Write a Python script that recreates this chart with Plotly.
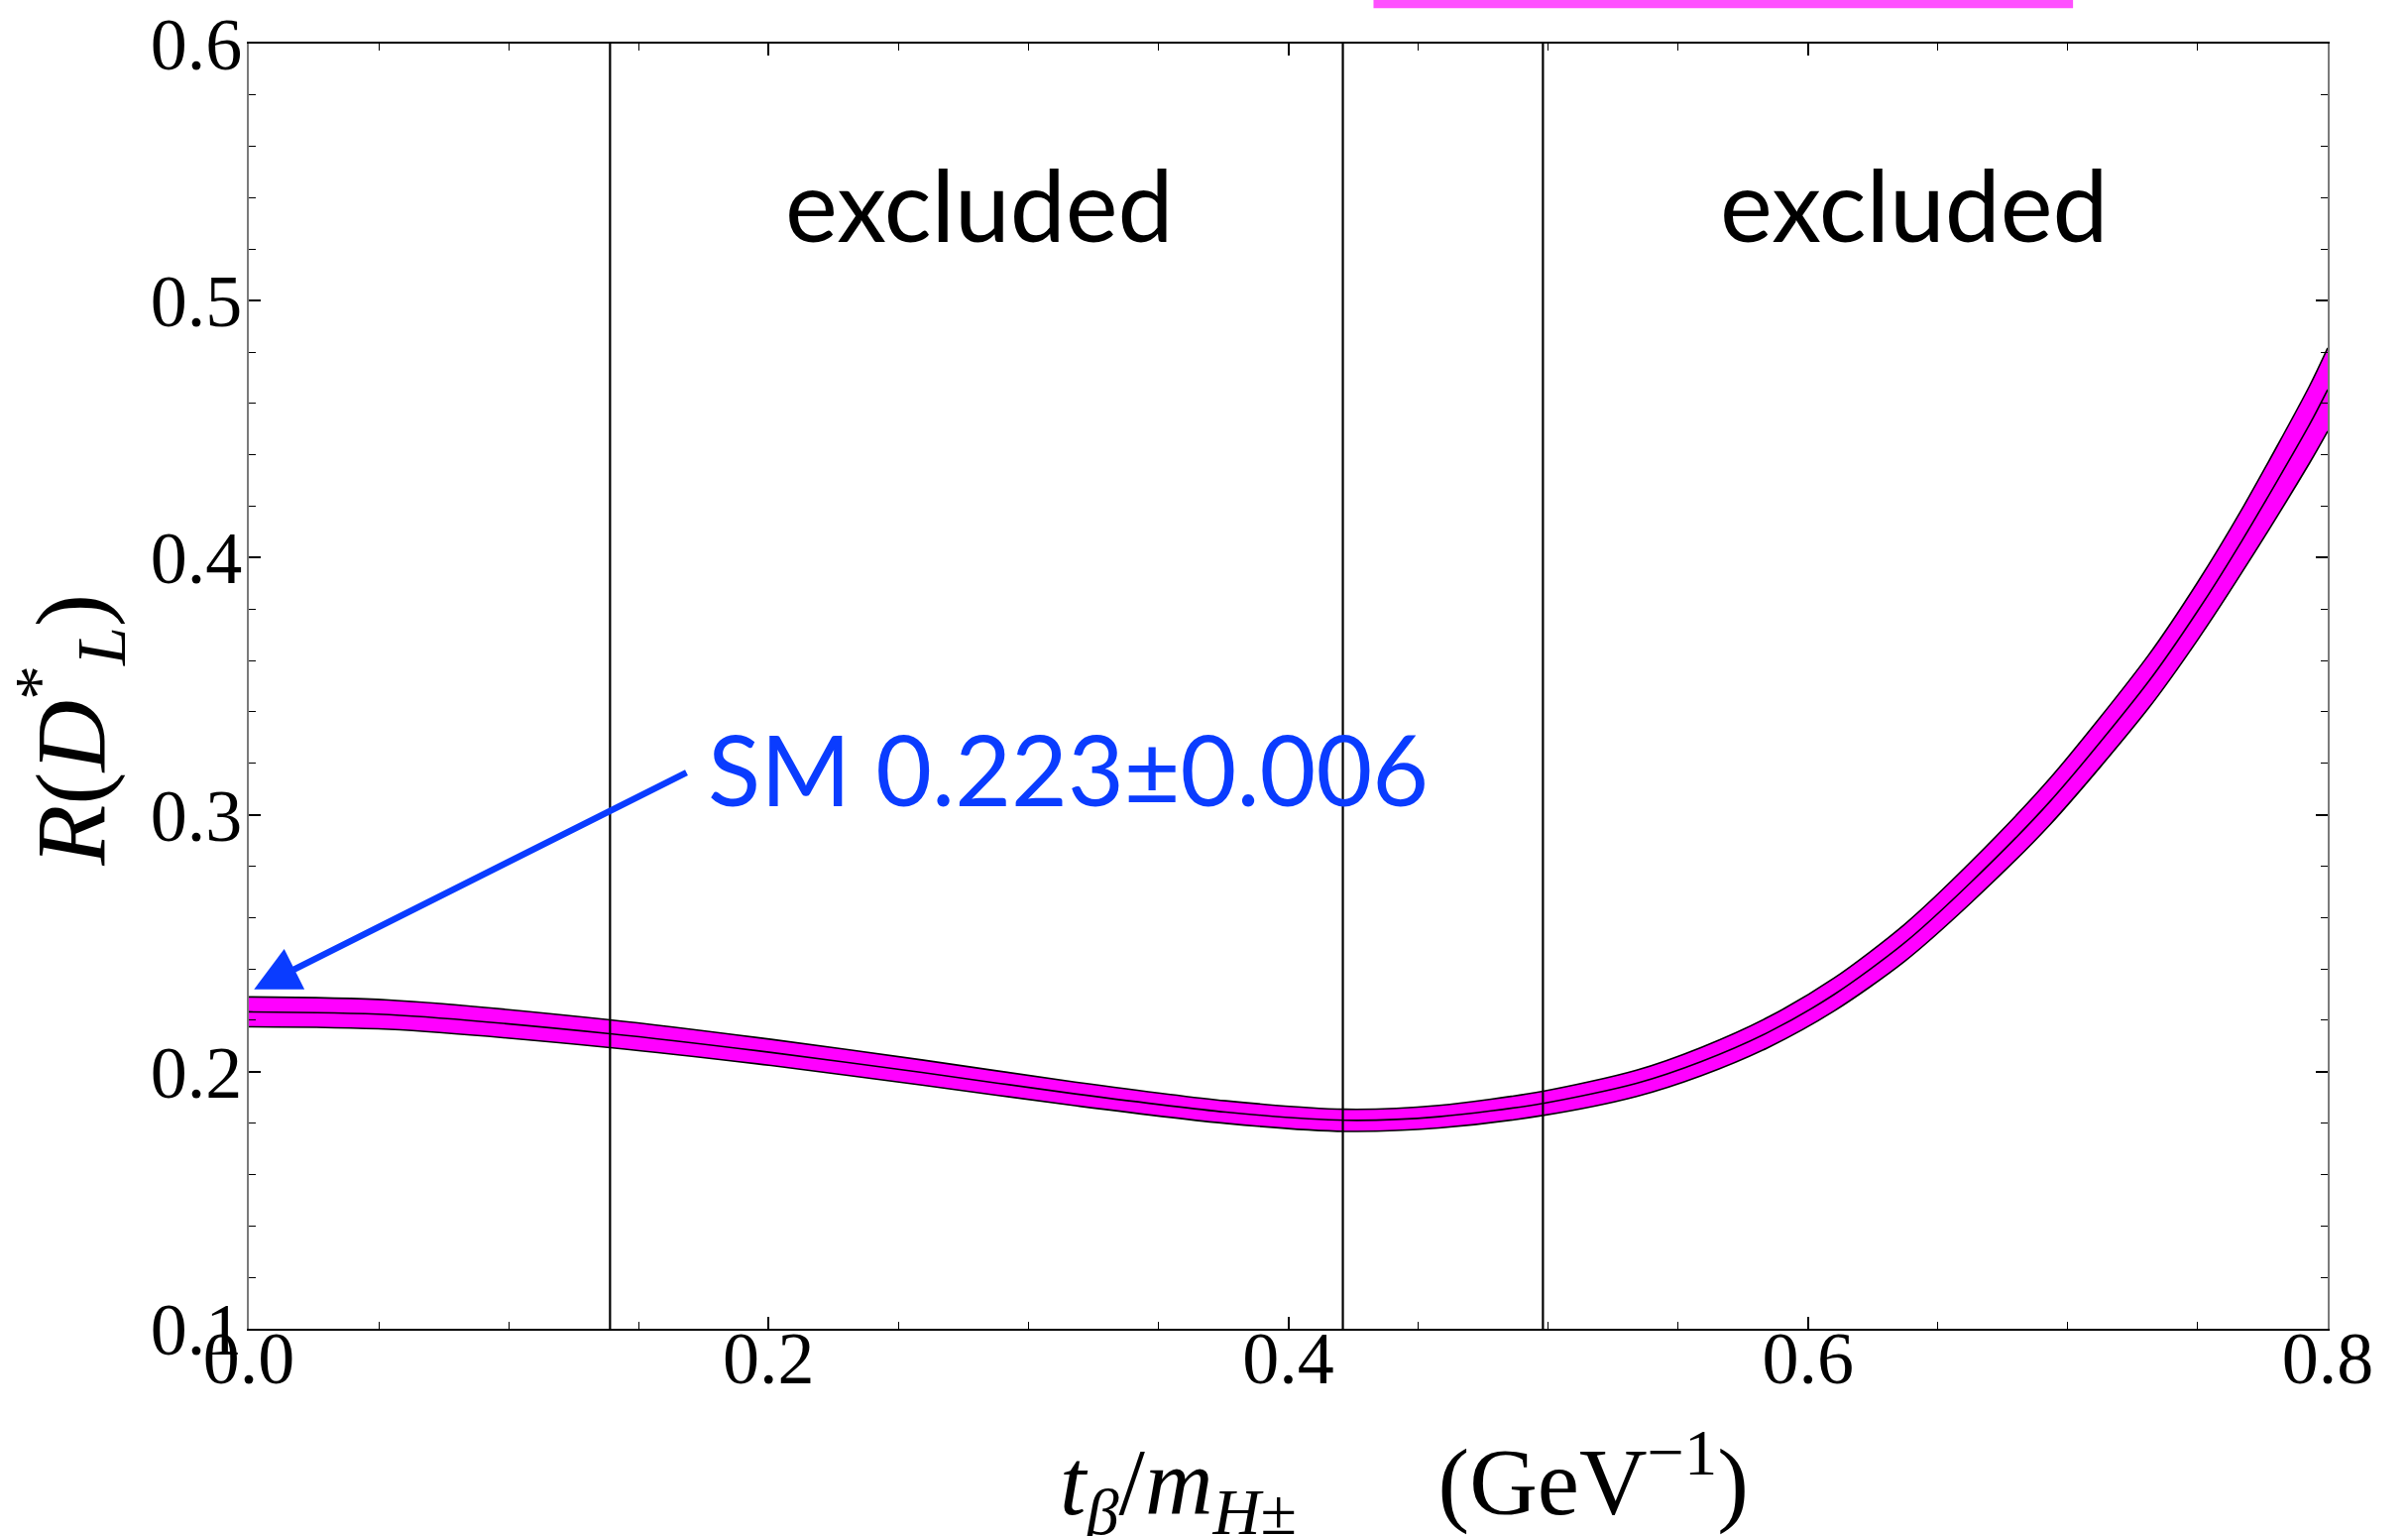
import plotly.graph_objects as go

# ---- data ----
x_pts = [0.000, 0.054, 0.139, 0.201, 0.259, 0.318, 0.376, 0.422, 0.458, 0.498, 0.534,
         0.559, 0.585, 0.610, 0.637, 0.663, 0.693, 0.731, 0.750, 0.767, 0.793, 0.800]
r_center = [0.2233, 0.2222, 0.2148, 0.2075, 0.1997, 0.1914, 0.1843, 0.1811, 0.1825, 0.1877, 0.1955,
            0.2040, 0.2155, 0.2300, 0.2500, 0.2740, 0.3050, 0.3517, 0.3793, 0.4066, 0.4518, 0.4654]
r_half = [0.0058, 0.0057, 0.0054, 0.0051, 0.0049, 0.0046, 0.0044, 0.0043, 0.0044, 0.0047, 0.0051,
          0.0055, 0.0059, 0.0064, 0.0072, 0.0080, 0.0090, 0.0103, 0.0112, 0.0123, 0.0150, 0.0162]

excluded_bounds = [0.139, 0.421, 0.498]
excluded_label_x = [0.281, 0.641]
excluded_label_y = 0.538
excluded_text = "excluded"

sm_label = "SM 0.223±0.006"
sm_label_pos = (0.176, 0.318)
sm_arrow_tip = (0.002, 0.232)
sm_arrow_tail = (0.169, 0.3167)

x_tickvals = [0.0, 0.2, 0.4, 0.6, 0.8]
x_ticktext = ["0.0", "0.2", "0.4", "0.6", "0.8"]
y_tickvals = [0.1, 0.2, 0.3, 0.4, 0.5, 0.6]
y_ticktext = ["0.1", "0.2", "0.3", "0.4", "0.5", "0.6"]

r_lower = [c - h for c, h in zip(r_center, r_half)]
r_upper = [c + h for c, h in zip(r_center, r_half)]

MAGENTA = "#ff00ff"
BLUE = "#0a3cff"
SERIF = "Liberation Serif"
SANS = "Lato"

line_style = dict(color="black", width=1.6, shape="spline", smoothing=0.8)

fig = go.Figure()
fig.add_trace(go.Scatter(x=x_pts, y=r_lower, mode="lines", line=line_style,
                         showlegend=False, hoverinfo="skip"))
fig.add_trace(go.Scatter(x=x_pts, y=r_upper, mode="lines", fill="tonexty", fillcolor=MAGENTA,
                         line=line_style, showlegend=False, hoverinfo="skip"))
fig.add_trace(go.Scatter(x=x_pts, y=r_center, mode="lines", line=line_style, showlegend=False))

for xb in excluded_bounds:
    fig.add_shape(type="line", xref="x", yref="paper", x0=xb, x1=xb, y0=0, y1=1,
                  line=dict(color="black", width=2.2), layer="above")

# clipped magenta fragment above the frame (artifact in the original image)
fig.add_shape(type="rect", xref="paper", yref="paper", x0=0.541, x1=0.8775, y0=1.0275, y1=1.0345,
              fillcolor="#ff50ff", line=dict(width=0), layer="above")

for xl in excluded_label_x:
    fig.add_annotation(x=xl, y=excluded_label_y, xref="x", yref="y", text=excluded_text,
                       showarrow=False, xanchor="center", yanchor="middle",
                       font=dict(family=SANS, size=100, color="black"))

fig.add_annotation(x=sm_arrow_tip[0], y=sm_arrow_tip[1], ax=sm_arrow_tail[0], ay=sm_arrow_tail[1],
                   xref="x", yref="y", axref="x", ayref="y", text="", showarrow=True,
                   arrowhead=2, arrowsize=1.4, arrowwidth=6.5, arrowcolor=BLUE)
fig.add_annotation(x=sm_label_pos[0], y=sm_label_pos[1], xref="x", yref="y", text=sm_label,
                   showarrow=False, xanchor="left", yanchor="middle",
                   font=dict(family=SANS, size=98, color=BLUE))

# axis titles
fig.add_annotation(x=-0.086, y=0.466, xref="paper", yref="paper", textangle=-90,
                   xanchor="center", yanchor="middle",
                   text="<i>R</i>(<i>D</i><sup>*</sup><sub><i>L</i></sub>)",
                   showarrow=False, font=dict(family=SERIF, size=100, color="black"))
fig.add_annotation(x=0.556, y=-0.119, xref="paper", yref="paper",
                   xanchor="center", yanchor="middle",
                   text="<i>t</i><sub><i>β</i></sub>/<i>m</i><sub><i>H</i>±</sub>\u2003\u2002(GeV<sup>−1</sup>)",
                   showarrow=False, font=dict(family=SERIF, size=95, color="black"))

common = dict(showgrid=False, zeroline=False, showline=True, mirror="allticks", automargin=False,
              ticks="inside", ticklen=12, tickwidth=1.5, tickcolor="black")
fig.update_xaxes(range=[0, 0.8], tickvals=x_tickvals, ticktext=x_ticktext,
                 linecolor="black", linewidth=2, ticklabelstandoff=-36,
                 tickfont=dict(family=SERIF, size=74, color="black"),
                 minor=dict(dtick=0.05, tick0=0, ticks="inside", ticklen=7, tickwidth=1.2,
                            tickcolor="black"),
                 **common)
fig.update_yaxes(range=[0.1, 0.6], tickvals=y_tickvals, ticktext=y_ticktext,
                 linecolor="#7a7a7a", linewidth=2, ticklabelstandoff=-10,
                 tickfont=dict(family=SERIF, size=74, color="black"),
                 minor=dict(dtick=0.02, tick0=0.1, ticks="inside", ticklen=7, tickwidth=1.2,
                            tickcolor="black"),
                 **common)

fig.update_layout(width=2429, height=1549, paper_bgcolor="white", plot_bgcolor="white",
                  margin=dict(l=251, r=81, t=44, b=209), showlegend=False)

fig.write_html("out.html", config={"displayModeBar": False},
               post_script="document.body.style.margin='0';document.body.style.overflow='hidden';")
